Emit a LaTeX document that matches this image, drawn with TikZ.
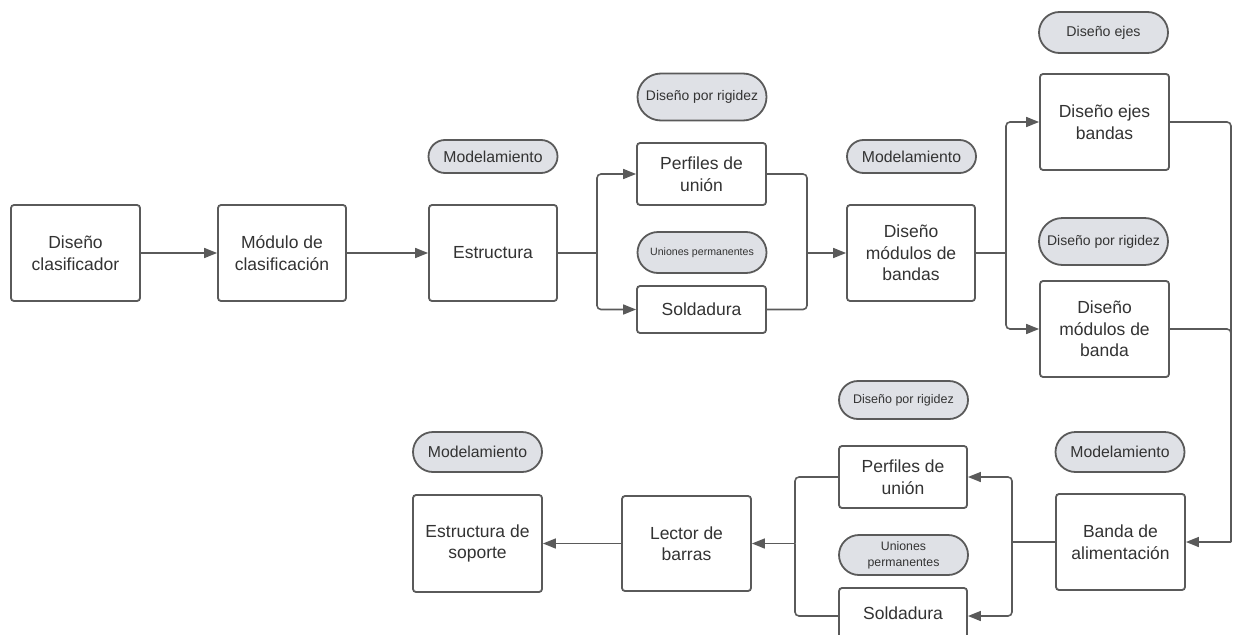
\documentclass[tikz,border=0pt]{standalone}
\usepackage{fontspec}
\setmainfont{Liberation Sans}
\usetikzlibrary{arrows.meta,shapes.misc}
\definecolor{linec}{HTML}{5A5A5A}
\definecolor{textc}{HTML}{333333}
\definecolor{pillc}{HTML}{DFE1E6}
\tikzset{
  box/.style={draw=linec, line width=1.8pt, rounded corners=3pt, fill=white,
    text=textc, align=center, inner sep=0pt,
    font=\fontsize{17.5}{21.5}\selectfont},
  pill/.style={draw=linec, line width=1.8pt, fill=pillc, shape=rounded rectangle,
    text=textc, align=center, inner sep=0pt, minimum width=129pt},
  conn/.style={draw=linec, line width=1.6pt, rounded corners=4pt},
  arr/.style={conn, -{Triangle[length=13pt,width=10pt]}}
}
\begin{document}
\begin{tikzpicture}[x=1pt,y=-1pt]
\useasboundingbox (0,0) rectangle (1238,634);
\clip (0,0) rectangle (1238,634);
% boxes
\node[box, minimum width=129pt, minimum height=96pt] (dc) at (75.5,253) {Diseño\\clasificador};
\node[box, minimum width=128pt, minimum height=96pt] (mc) at (282,253) {Módulo de\\clasificación};
\node[box, minimum width=128pt, minimum height=96pt] (es) at (493,253) {Estructura};
\node[box, minimum width=129pt, minimum height=62pt] (p1) at (701.5,174) {Perfiles de\\unión};
\node[box, minimum width=129pt, minimum height=47pt] (s1) at (701.5,309.5) {Soldadura};
\node[box, minimum width=128pt, minimum height=96pt] (dmb) at (911,253) {Diseño\\módulos de\\bandas};
\node[box, minimum width=129pt, minimum height=96pt] (deb) at (1104.5,122) {Diseño ejes\\bandas};
\node[box, minimum width=129pt, minimum height=96pt] (dmb2) at (1104.5,329) {Diseño\\módulos de\\banda};
\node[box, minimum width=129pt, minimum height=96pt] (ba) at (1120.5,542) {Banda de\\alimentación};
\node[box, minimum width=128pt, minimum height=62pt] (p2) at (903,477) {Perfiles de\\unión};
\node[box, minimum width=128pt, minimum height=50pt] (s2) at (903,613) {Soldadura};
\node[box, minimum width=129pt, minimum height=95pt] (lb) at (686.5,543.5) {Lector de\\barras};
\node[box, minimum width=129pt, minimum height=97pt] (sop) at (477.5,543.5) {Estructura de\\soporte};
% pills
\node[pill, minimum height=33pt, font=\fontsize{15.8}{18}\selectfont] (m1) at (493,156.5) {Modelamiento};
\node[pill, minimum height=47pt, font=\fontsize{13.9}{16}\selectfont] (r1) at (702,97) {Diseño por rigidez};
\node[pill, minimum height=41pt, font=\fontsize{10.6}{12}\selectfont] (u1) at (702,252.5) {Uniones permanentes};
\node[pill, minimum height=33pt, font=\fontsize{15.8}{18}\selectfont] (m2) at (911.5,156.5) {Modelamiento};
\node[pill, minimum height=41pt, font=\fontsize{14.2}{16}\selectfont] (e1) at (1103.5,32.5) {Diseño ejes};
\node[pill, minimum height=47pt, font=\fontsize{14}{16}\selectfont] (r2) at (1103.5,241.5) {Diseño por rigidez};
\node[pill, minimum height=38pt, font=\fontsize{12.5}{15}\selectfont] (r3) at (903.5,400) {Diseño por rigidez};
\node[pill, minimum height=40pt, font=\fontsize{15.8}{18}\selectfont] (m3) at (1120,452) {Modelamiento};
\node[pill, minimum height=40pt, font=\fontsize{12.3}{16}\selectfont] (u2) at (903.5,555) {Uniones\\permanentes};
\node[pill, minimum height=40pt, font=\fontsize{15.8}{18}\selectfont] (m4) at (477.5,452) {Modelamiento};
% junctions
\coordinate (j1) at (597,253);
\coordinate (j2) at (807,253);
\coordinate (j3) at (1006,253);
\coordinate (j4) at (1231,542);
\coordinate (j5) at (1012,542);
\coordinate (j6) at (795,543.5);
% connectors
\draw[arr] (dc.east) -- (mc.west);
\draw[arr] (mc.east) -- (es.west);
\draw[conn] (es.east) -- (j1);
\draw[arr] (j1) |- (p1.west);
\draw[arr] (j1) |- (s1.west);
\draw[conn] (p1.east) -| (j2);
\draw[conn] (s1.east) -| (j2);
\draw[arr] (j2) -- (dmb.west);
\draw[conn] (dmb.east) -- (j3);
\draw[arr] (j3) |- (deb.west);
\draw[arr] (j3) |- (dmb2.west);
\draw[conn] (deb.east) -| (j4);
\draw[conn] (dmb2.east) -| (j4);
\draw[arr] (j4) -- (ba.east);
\draw[conn] (ba.west) -- (j5);
\draw[arr] (j5) |- (p2.east);
\draw[arr] (j5) |- ([yshift=-3pt]s2.east);
\draw[conn] (p2.west) -| (j6);
\draw[conn] ([yshift=-3pt]s2.west) -| (j6);
\draw[arr] (j6) -- (lb.east);
\draw[arr] (lb.west) -- (sop.east);
\end{tikzpicture}
\end{document}
